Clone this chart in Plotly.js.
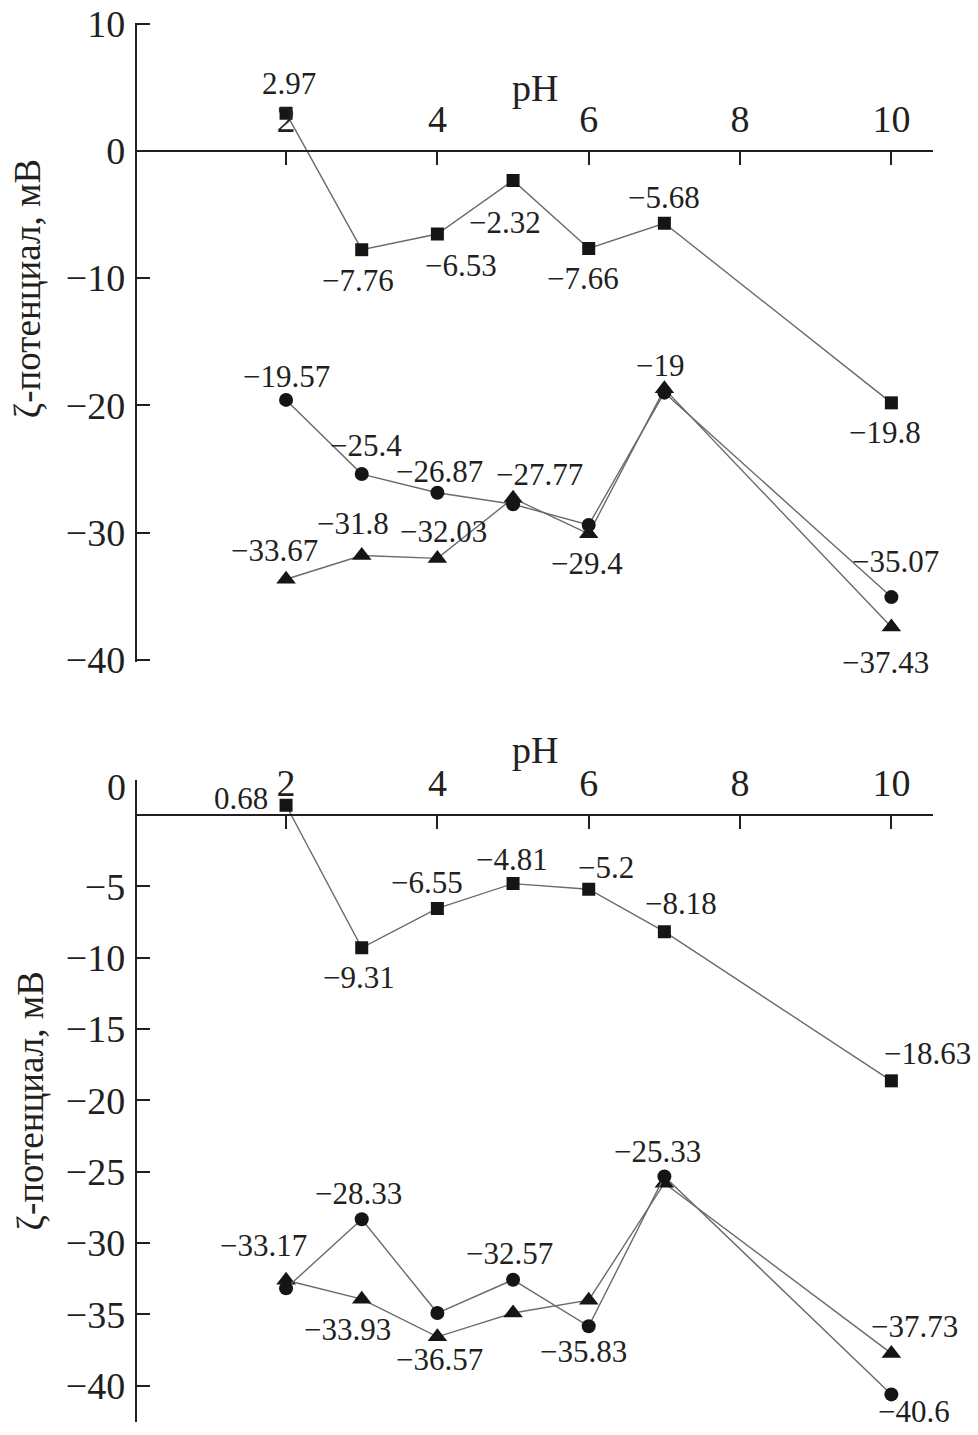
<!DOCTYPE html>
<html>
<head>
<meta charset="utf-8">
<script src="https://cdn.plot.ly/plotly-3.0.1.min.js"></script>
<style>html,body{margin:0;padding:0;background:#fff;}#chart{width:978px;height:1435px;}</style>
</head>
<body>
<div id="chart"></div>
<script>
// ---- data ----
const pH = [2, 3, 4, 5, 6, 7, 10];
const xTicks = [2, 4, 6, 8, 10];

const topSquares   = [2.97, -7.76, -6.53, -2.32, -7.66, -5.68, -19.8];
const topCircles   = [-19.57, -25.4, -26.87, -27.77, -29.4, -19, -35.07];
const topTriangles = [-33.67, -31.8, -32.03, -27.3, -30.1, -18.7, -37.43];
const topYTicks    = [-40, -30, -20, -10, 0, 10];

const botSquares   = [0.68, -9.31, -6.55, -4.81, -5.2, -8.18, -18.63];
const botCircles   = [-33.17, -28.33, -34.9, -32.57, -35.83, -25.33, -40.6];
const botTriangles = [-32.6, -33.93, -36.57, -34.9, -34.0, -25.8, -37.73];
const botYTicks    = [-40, -35, -30, -25, -20, -15, -10, -5];

const yTitle = 'ζ-потенциал, мВ';
const xTitle = 'pH';

// ---- label placement (pixel offsets dx, dy; null = no label) ----
const offTopSq = [[3,-30],[-4,31],[24,31],[-8,42],[-6,30],[0,-26],[-6,30]];
const offTopCi = [[0,-23],[4,-29],[2,-21],[26,-30],[-2,39],[-4,-27],[4,-36]];
const offTopTr = [[-12,-29],[-9,-32],[6,-27],null,null,null,[-6,35]];
const offBotSq = [[-45,-7],[-3,30],[-10,-26],[-1,-24],[17,-22],[17,-28],[36,-27]];
const offBotCi = [[-23,-43],[-3,-26],null,[-4,-26],[-5,25],[-7,-25],[23,17]];
const offBotTr = [null,[-14,30],[2,23],null,null,null,[23,-27]];

// ---- styling ----
const FONT = '"Liberation Serif", "Times New Roman", serif';
const INK = '#231f20';
const LINE = '#6a6a6a';
const fmt = v => (v < 0 ? '\u2212' : '') + Math.abs(v);

function series(y, symbol, size, xa, ya) {
  return {
    x: pH, y: y, xaxis: xa, yaxis: ya, type: 'scatter', mode: 'lines+markers',
    line: {color: LINE, width: 1.4},
    marker: {symbol: symbol, size: size, color: '#151515', line: {width: 0}},
    hoverinfo: 'x+y'
  };
}

const traces = [
  series(topTriangles, 'triangle-up', 17, 'x', 'y'),
  series(topCircles, 'circle', 14, 'x', 'y'),
  series(topSquares, 'square', 13, 'x', 'y'),
  series(botTriangles, 'triangle-up', 17, 'x2', 'y2'),
  series(botCircles, 'circle', 14, 'x2', 'y2'),
  series(botSquares, 'square', 13, 'x2', 'y2')
];

const annotations = [];
function addLabels(vals, offs, xr, yr) {
  vals.forEach((v, i) => {
    const o = offs[i];
    if (!o) return;
    annotations.push({
      x: pH[i], y: v, xref: xr, yref: yr, text: fmt(v), showarrow: false,
      xanchor: 'center', yanchor: 'middle', xshift: o[0], yshift: -o[1],
      font: {family: FONT, size: 31, color: INK}
    });
  });
}
addLabels(topSquares, offTopSq, 'x', 'y');
addLabels(topCircles, offTopCi, 'x', 'y');
addLabels(topTriangles, offTopTr, 'x', 'y');
addLabels(botSquares, offBotSq, 'x2', 'y2');
addLabels(botCircles, offBotCi, 'x2', 'y2');
addLabels(botTriangles, offBotTr, 'x2', 'y2');

// y title of the upper panel (sits above the panel centre)
annotations.push({
  xref: 'paper', yref: 'paper', x: -0.138, y: 1 - 289 / 1435, text: yTitle,
  textangle: -90, showarrow: false, xanchor: 'center', yanchor: 'middle',
  font: {family: FONT, size: 37, color: INK}
});
// "0" tick label of the lower panel, lifted above the pH axis
annotations.push({
  xref: 'paper', yref: 'y2', x: 0, y: 0, text: '0', showarrow: false,
  xanchor: 'right', yanchor: 'middle', xshift: -9, yshift: 28,
  font: {family: FONT, size: 38, color: INK}
});
// pH axis titles, just above the tick labels
[['y', 63], ['y2', 65]].forEach(([yr, up]) => {
  annotations.push({
    xref: 'paper', yref: yr, x: 0.5, y: 0, text: xTitle, showarrow: false,
    xanchor: 'center', yanchor: 'middle', yshift: up,
    font: {family: FONT, size: 38, color: INK}
  });
});

function xAxis(pos) {
  return {
    domain: [0, 1], range: [0.03, 10.55], anchor: 'free', position: pos, side: 'top',
    tickvals: xTicks, ticks: 'inside', ticklen: 13, tickwidth: 2, tickcolor: INK,
    showline: true, linewidth: 2.2, linecolor: INK, showgrid: false, zeroline: false,
    tickfont: {family: FONT, size: 38, color: INK}, ticklabelstandoff: 3
  };
}
function yAxis(domain, range, ticks, xa, withTitle) {
  const a = {
    domain: domain, range: range, anchor: xa, tickvals: ticks,
    ticks: 'inside', ticklen: 13, tickwidth: 2, tickcolor: INK,
    showline: true, linewidth: 2.2, linecolor: INK, showgrid: false, zeroline: false,
    tickfont: {family: FONT, size: 38, color: INK}, ticklabelstandoff: 2
  };
  if (withTitle) a.title = {text: yTitle, font: {family: FONT, size: 37, color: INK}, standoff: 11};
  return a;
}

const layout = {
  width: 978, height: 1435,
  margin: {l: 137, r: 45, t: 0, b: 0},
  paper_bgcolor: '#ffffff', plot_bgcolor: '#ffffff',
  showlegend: false,
  font: {family: FONT, color: INK},
  xaxis: xAxis(1 - 151 / 1435),
  yaxis: yAxis([1 - 661.7 / 1435, 1 - 22.5 / 1435], [-40.15, 10.1], topYTicks, 'x', false),
  xaxis2: xAxis(1 - 815 / 1435),
  yaxis2: yAxis([1 - 1421.5 / 1435, 1 - 780 / 1435], [-42.5, 2.45], botYTicks, 'x2', true),
  annotations: annotations
};

Plotly.newPlot('chart', traces, layout, {staticPlot: true, displayModeBar: false});
</script>
</body>
</html>
